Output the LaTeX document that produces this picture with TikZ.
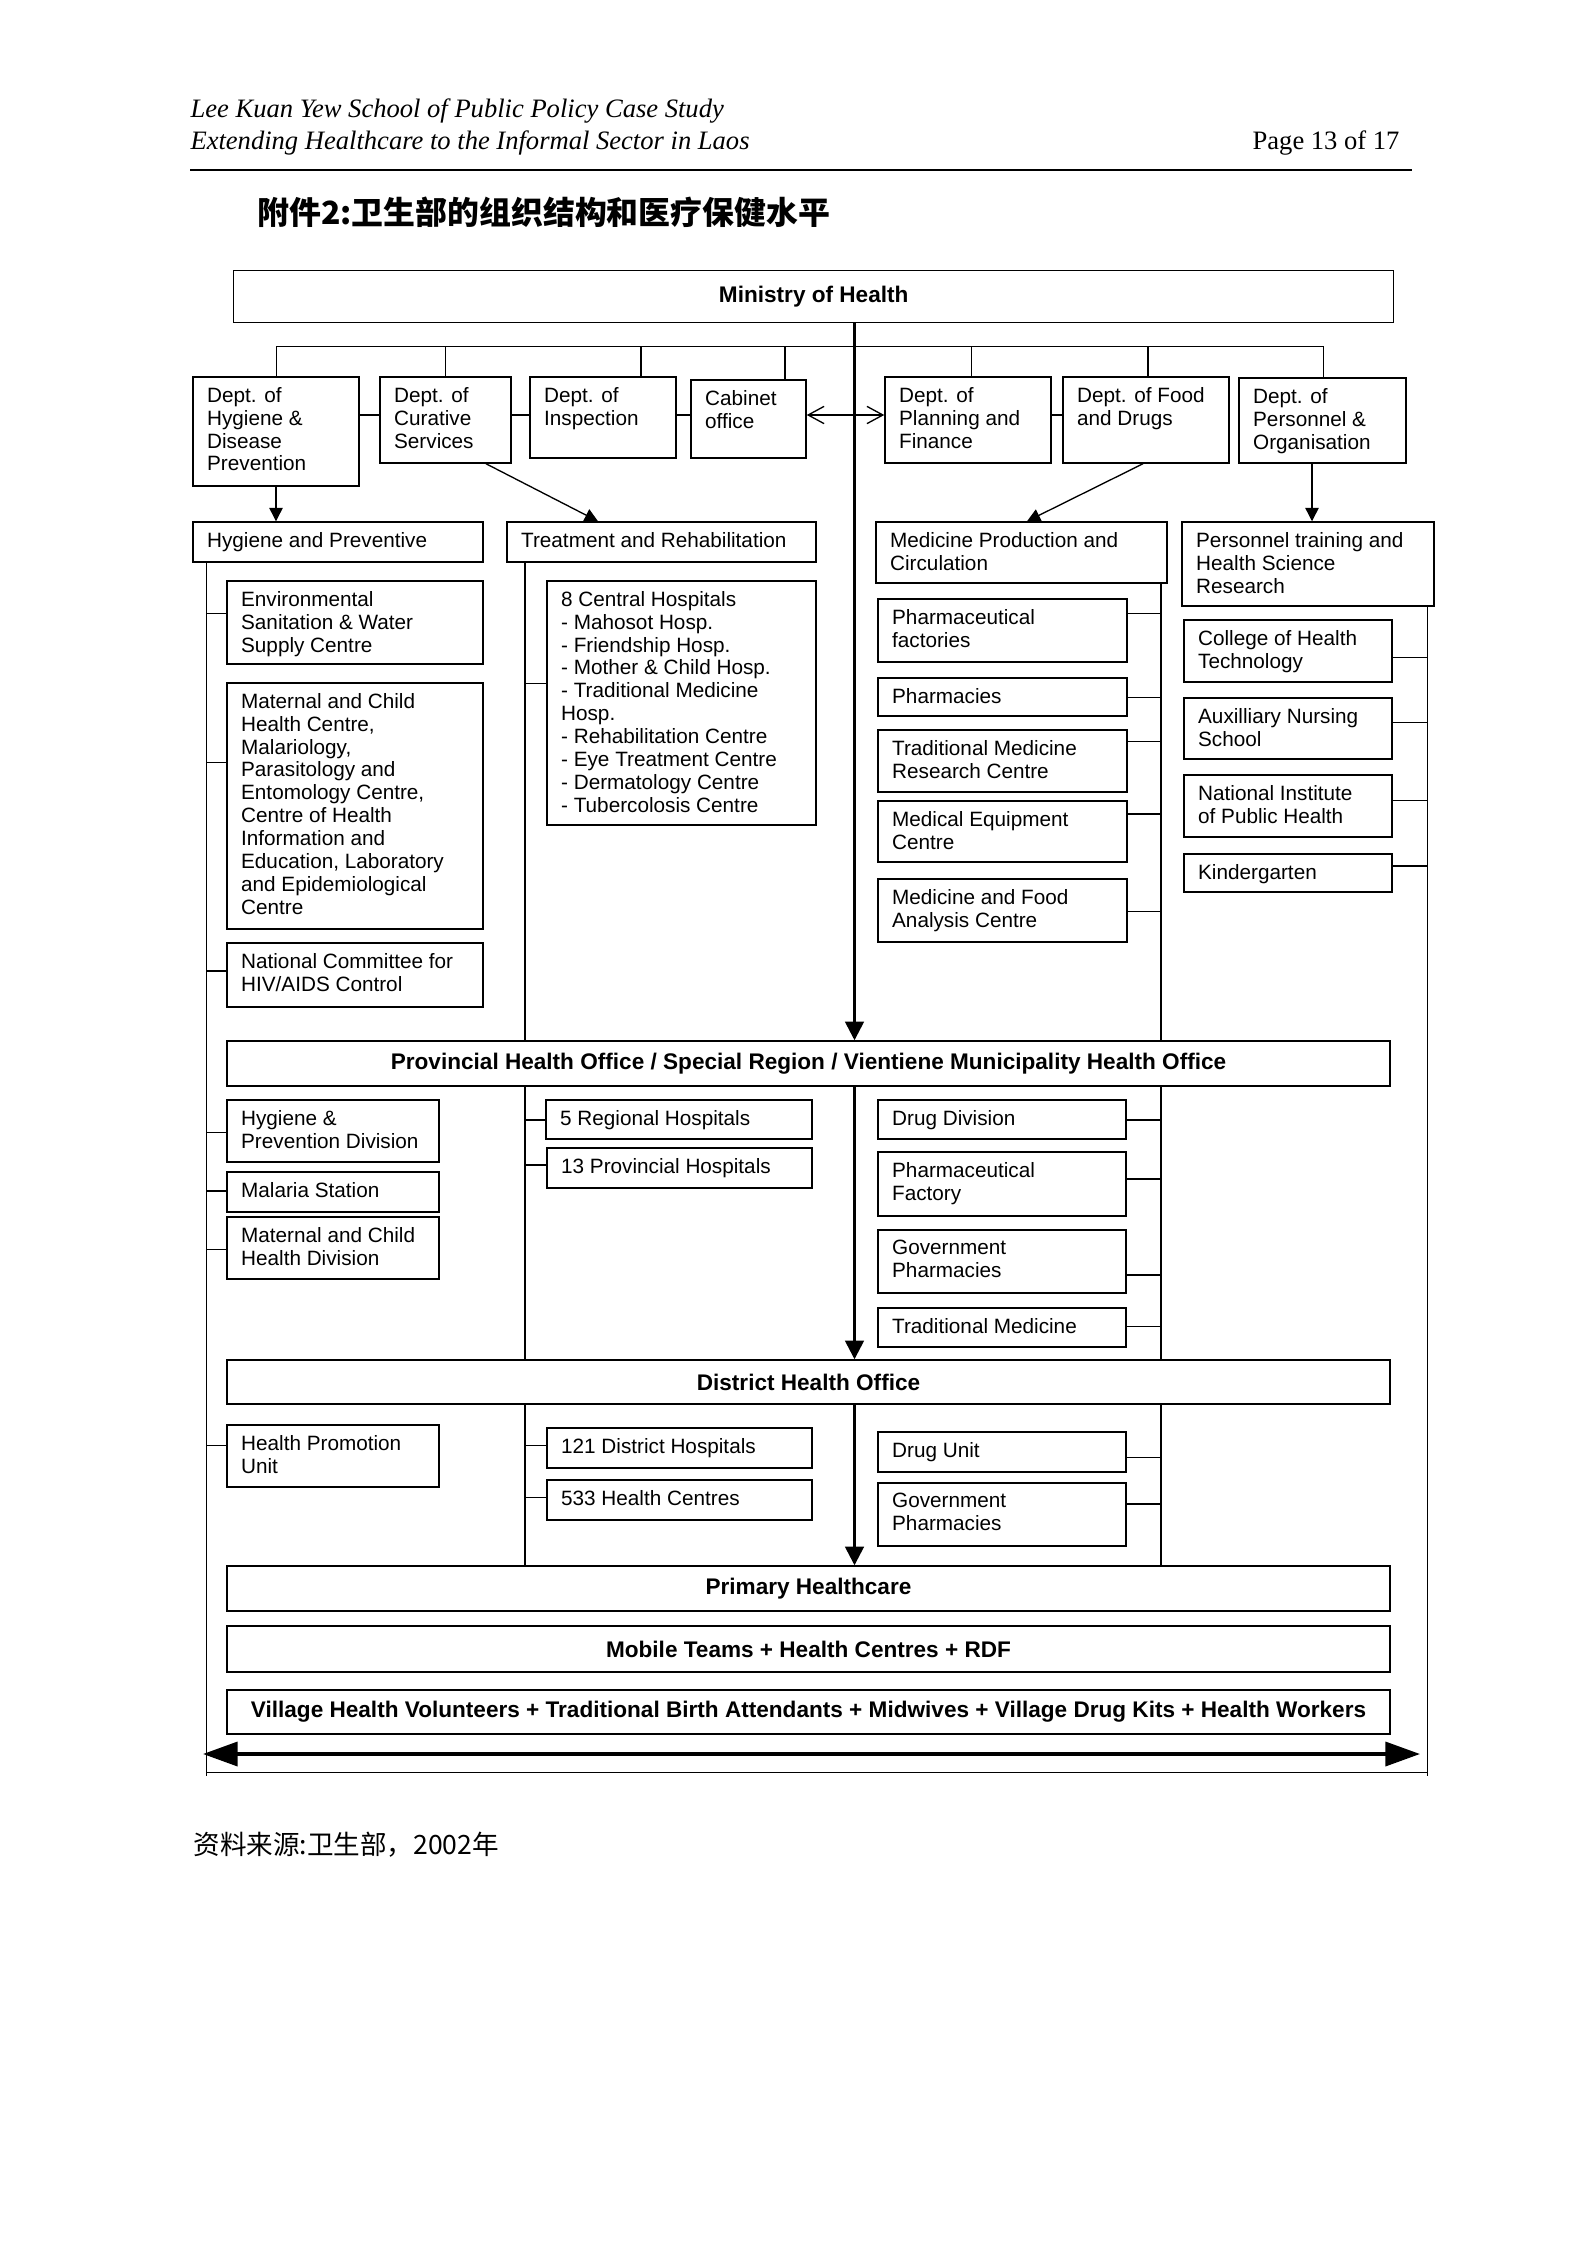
\documentclass[tikz,border=0pt]{standalone}
\usepackage{fontspec}
\setmainfont{Liberation Serif}
\setsansfont{Liberation Sans}
\newfontfamily\cjk{Noto Sans CJK SC}
\usetikzlibrary{arrows.meta}
\usetikzlibrary{fit}
\tikzset{orgbox/.style={draw, line width=0.55pt, inner sep=0pt}}
\tikzset{boxtext/.style={inner sep=0pt, anchor=north west, align=left, font=\sffamily\fontsize{7.8}{8.6}\selectfont}}
\tikzset{leveltext/.style={inner sep=0pt, font=\sffamily\bfseries\fontsize{8.5}{10}\selectfont}}
\tikzset{link/.style={line width=0.5pt}}
\tikzset{spine/.style={line width=1pt, -{Triangle[width=7pt,length=7pt]}}}
\tikzset{down/.style={-{Triangle[width=5pt,length=5pt]}}}
% unit box with text in the top left corner
\newcommand{\unitbox}[6]{%
  \node[orgbox, fit={(#2,#3) (#4,#5)}] (#1) {};
  \node[boxtext] (#1-txt) at ([xshift=5.4pt,yshift=-4pt]#1.north west) {#6};}
% level box with centred bold text
\newcommand{\levelbox}[6]{%
  \node[orgbox, fit={(#2,#3) (#4,#5)}] (#1) {};
  \node[leveltext] (#1-txt) at (#1.center) {#6};}

\begin{document}
\begin{tikzpicture}[x=0.013224cm, y=-0.013224cm]
\useasboundingbox (0,0) rectangle (1588,2245);
%Header
\node[anchor=base west, inner sep=0pt, font=\itshape\fontsize{10}{12}\selectfont] (head1) at (190,117) {Lee Kuan Yew School of Public Policy Case Study};
\node[anchor=base west, inner sep=0pt, font=\itshape\fontsize{10}{12}\selectfont] (head2) at (190,149) {Extending Healthcare to the Informal Sector in Laos};
\node[anchor=base east, inner sep=0pt, font=\fontsize{10}{12}\selectfont] (page) at (1400,149) {Page 13 of 17};
\draw[line width=0.8pt] (190,170) -- (1412,170);
\node[anchor=west, inner sep=0pt, font=\cjk\bfseries\fontsize{12}{14}\selectfont] (title) at (257,212) {附件2:卫生部的组织结构和医疗保健水平};
\node[anchor=west, inner sep=0pt, font=\cjk\fontsize{10}{12}\selectfont] (source) at (193,1845) {资料来源:卫生部，2002年};
%Ministry and departments
\levelbox{moh}{233.7}{270.7}{1393.7}{322.3}{Ministry of Health}
\unitbox{hyg}{193}{377}{359}{486}{Dept. of\\Hygiene \&\\Disease\\Prevention}
\unitbox{cur}{380}{377}{511}{463}{Dept. of\\Curative\\Services}
\unitbox{ins}{530}{377}{676}{458}{Dept. of\\Inspection}
\unitbox{cab}{691}{380}{806}{458}{Cabinet\\office}
\unitbox{pla}{885}{377}{1051}{463}{Dept. of\\Planning and\\Finance}
\unitbox{fdd}{1063}{377}{1229}{463}{Dept. of Food\\and Drugs}
\unitbox{per}{1239}{378}{1406}{463}{Dept. of\\Personnel \&\\Organisation}
%Sections
\unitbox{hp}{193}{522}{483}{562}{Hygiene and Preventive}
\unitbox{tr}{507}{522}{816}{562}{Treatment and Rehabilitation}
\unitbox{mp}{876}{522}{1167}{583}{Medicine Production and\\Circulation}
\unitbox{pt}{1182}{522}{1434}{606}{Personnel training and\\Health Science\\Research}
\unitbox{env}{227}{581}{483}{664}{Environmental\\Sanitation \& Water\\Supply Centre}
\unitbox{mch}{227}{683}{483}{929}{Maternal and Child\\Health Centre,\\Malariology,\\Parasitology and\\Entomology Centre,\\Centre of Health\\Information and\\Education, Laboratory\\and Epidemiological\\Centre}
\unitbox{hiv}{227}{943}{483}{1007}{National Committee for\\HIV/AIDS Control}
\unitbox{ch}{547}{581}{816}{825}{8 Central Hospitals\\- Mahosot Hosp.\\- Friendship Hosp.\\- Mother \& Child Hosp.\\- Traditional Medicine\\Hosp.\\- Rehabilitation Centre\\- Eye Treatment Centre\\- Dermatology Centre\\- Tubercolosis Centre}
\unitbox{phf}{878}{599}{1127}{662}{Pharmaceutical\\factories}
\unitbox{pha}{878}{678}{1127}{716}{Pharmacies}
\unitbox{tmr}{878}{730}{1127}{792}{Traditional Medicine\\Research Centre}
\unitbox{meq}{878}{801}{1127}{862}{Medical Equipment\\Centre}
\unitbox{mfa}{878}{879}{1127}{942}{Medicine and Food\\Analysis Centre}
\unitbox{col}{1184}{620}{1392}{682}{College of Health\\Technology}
\unitbox{anu}{1184}{698}{1392}{759}{Auxilliary Nursing\\School}
\unitbox{nip}{1184}{775}{1392}{837}{National Institute\\of Public Health}
\unitbox{kin}{1184}{854}{1392}{892}{Kindergarten}
%Provincial level
\levelbox{pho}{227}{1041}{1390}{1086}{Provincial Health Office / Special Region / Vientiene Municipality Health Office}
\unitbox{hpd}{227}{1100}{439}{1162}{Hygiene \&\\Prevention Division}
\unitbox{mal}{227}{1172}{439}{1212}{Malaria Station}
\unitbox{mcd}{227}{1217}{439}{1279}{Maternal and Child\\Health Division}
\unitbox{rh}{546}{1100}{812}{1139}{5 Regional Hospitals}
\unitbox{prh}{547}{1148}{812}{1188}{13 Provincial Hospitals}
\unitbox{dd}{878}{1100}{1126}{1139}{Drug Division}
\unitbox{pfa}{878}{1152}{1126}{1216}{Pharmaceutical\\Factory}
\unitbox{gph}{878}{1230}{1126}{1293}{Government\\Pharmacies}
\unitbox{tme}{878}{1308}{1126}{1347}{Traditional Medicine}
%District level
\levelbox{dho}{227}{1360}{1390}{1404}{District Health Office}
\unitbox{hpu}{227}{1425}{439}{1487}{Health Promotion\\Unit}
\unitbox{dh}{547}{1428}{812}{1468}{121 District Hospitals}
\unitbox{hc}{547}{1480}{812}{1520}{533 Health Centres}
\unitbox{du}{878}{1432}{1126}{1472}{Drug Unit}
\unitbox{dgp}{878}{1483}{1126}{1546}{Government\\Pharmacies}
%Village level
\levelbox{phc}{227}{1566}{1390}{1611}{Primary Healthcare}
\levelbox{mob}{227}{1626}{1390}{1672}{Mobile Teams + Health Centres + RDF}
\levelbox{vil}{227}{1690}{1390}{1734}{Village Health Volunteers + Traditional Birth Attendants + Midwives + Village Drug Kits + Health Workers}
%Spines
\coordinate (bus) at (0,346.7);
\coordinate (spL) at (206.5,0);
\coordinate (spT) at (524.9,0);
\coordinate (spC) at (854.5,0);
\coordinate (spM) at (1161,0);
\coordinate (spR) at (1427.7,0);
\coordinate (arrL) at (203,1754);
\coordinate (arrR) at (1420,1754);
%Edge
\draw[link] (bus -| hyg.north) -- (bus -| 1323.8,0);
\foreach \nm/\xx in {hyg/276.6, cur/445.5, ins/641, cab/785, pla/971.6, fdd/1148, per/1323.8}
  \draw[link] (bus -| \xx,0) -- (\nm.north -| \xx,0);
\foreach \ea/\wb in {hyg/cur, cur/ins, ins/cab, pla/fdd}
  \draw[link] (\ea.east |- 0,415) -- (\wb.west |- 0,415);
\draw[link, {Straight Barb[length=6pt,width=6.5pt]}-{Straight Barb[length=6pt,width=6.5pt]}] (cab.east |- 0,415) -- (pla.west |- 0,415);
\draw[link, down] (hyg.south) -- (hp.north -| hyg.south);
\draw[link, down] (cur.south -| 486,0) -- (tr.north -| 598,0);
\draw[link, down] (fdd.south -| 1143,0) -- (mp.north -| 1027,0);
\draw[link, down] (per.south -| 1312,0) -- (pt.north -| 1312,0);
\draw[spine] (moh.south -| spC) -- (pho.north -| spC);
\draw[spine] (pho.south -| spC) -- (dho.north -| spC);
\draw[spine] (dho.south -| spC) -- (phc.north -| spC);
\draw[link] (hp.south -| spL) -- (spL |- 0,1776);
\draw[link] (pt.south -| spR) -- (spR |- 0,1776);
\draw[link] (tr.south -| spT) -- (pho.north -| spT);
\draw[link] (pho.south -| spT) -- (dho.north -| spT);
\draw[link] (dho.south -| spT) -- (phc.north -| spT);
\draw[link] (mp.south -| spM) -- (pho.north -| spM);
\draw[link] (pho.south -| spM) -- (dho.north -| spM);
\draw[link] (dho.south -| spM) -- (phc.north -| spM);
\foreach \nm/\yy in {env/613.3, mch/762.7, hiv/971, hpd/1132.3, mal/1191, mcd/1249.3, hpu/1445.7}
  \draw[link] (spL |- 0,\yy) -- (\nm.west |- 0,\yy);
\foreach \nm/\yy in {ch/683.3, rh/1120, prh/1165, dh/1445.7, hc/1497.3}
  \draw[link] (spT |- 0,\yy) -- (\nm.west |- 0,\yy);
\foreach \nm/\yy in {phf/613.3, pha/697.3, tmr/741.7, meq/814, mfa/911.7, dd/1120, pfa/1179, gph/1275, tme/1326.7, du/1457.7, dgp/1504}
  \draw[link] (\nm.east |- 0,\yy) -- (spM |- 0,\yy);
\foreach \nm/\yy in {col/657.3, anu/722.7, nip/800.7, kin/866}
  \draw[link] (\nm.east |- 0,\yy) -- (spR |- 0,\yy);
\draw[line width=1.4pt, {Triangle[length=13pt,width=9pt]}-{Triangle[length=13pt,width=9pt]}] (arrL) -- (arrR);
\draw[link] (spL |- 0,1772.7) -- (spR |- 0,1772.7);
\end{tikzpicture}
\end{document}
